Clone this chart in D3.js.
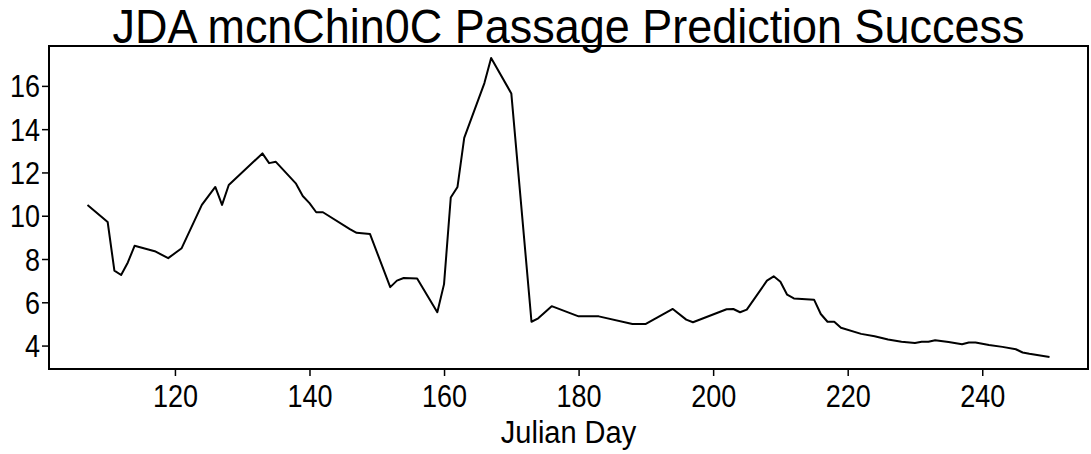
<!DOCTYPE html>
<html><head><meta charset="utf-8">
<script src="https://cdn.jsdelivr.net/npm/d3@7"></script>
<style>
html,body{margin:0;padding:0;background:#fff;}
svg{display:block;font-family:"Liberation Sans",Arial,sans-serif;}
</style></head>
<body>
<svg id="chart" width="1091" height="454"></svg>
<script>
const title = "JDA mcnChin0C Passage Prediction Success";
const xLabel = "Julian Day";
const days = [107,110,111,112,113,114,117,119,121,124,126,127,128,133,134,135,138,139,140,141,142,146,147,149,152,153,154,156,159,160,161,162,163,166,167,170,173,174,176,180,183,188,190,194,196,197,202,203,204,205,208,209,210,211,212,215,216,217,218,219,222,224,226,228,230,231,232,233,235,237,238,239,241,243,245,246,247,250];
const values = [10.5,9.71,7.46,7.26,7.84,8.61,8.36,8.04,8.5,10.5,11.33,10.5,11.42,12.88,12.43,12.49,11.48,10.91,10.58,10.16,10.16,9.38,9.21,9.15,6.7,7.0,7.12,7.1,5.54,6.84,10.84,11.33,13.6,16.13,17.29,15.65,5.1,5.26,5.82,5.35,5.35,5.0,5.0,5.69,5.2,5.08,5.68,5.69,5.54,5.66,7.0,7.2,6.95,6.35,6.18,6.12,5.46,5.1,5.1,4.82,4.54,4.43,4.28,4.18,4.12,4.18,4.18,4.25,4.16,4.06,4.14,4.14,4.03,3.94,3.83,3.68,3.62,3.47];
const xTicks = [120,140,160,180,200,220,240];
const yTicks = [4,6,8,10,12,14,16];

const data = days.map((d,i)=>({x:d,y:values[i]}));
const svg = d3.select("#chart");
const L=49, R=1088, T=46, B=369;

function padExt(a){const e=d3.extent(a);const r=e[1]-e[0];return [e[0]-0.04*r,e[1]+0.04*r];}
const x = d3.scaleLinear().domain(padExt(days)).range([L,R]);
const y = d3.scaleLinear().domain(padExt(values)).range([B,T]);

svg.append("rect").attr("x",L).attr("y",T).attr("width",R-L).attr("height",B-T)
  .attr("fill","none").attr("stroke","#000").attr("stroke-width",2);

const xa = svg.append("g").attr("transform",`translate(0,${B})`)
  .call(d3.axisBottom(x).tickValues(xTicks).tickSize(7).tickFormat(d3.format("d")));
const ya = svg.append("g").attr("transform",`translate(${L},0)`)
  .call(d3.axisLeft(y).tickValues(yTicks).tickSize(7).tickFormat(d3.format("d")));
[xa,ya].forEach(g=>{
  g.select(".domain").remove();
  g.selectAll(".tick line").attr("stroke","#000").attr("stroke-width",1.5);
  g.selectAll(".tick text").attr("fill","#000").style("font-size","27px")
   .style("font-family","'Liberation Sans',Arial,sans-serif")
   .attr("x",0).attr("y",0).attr("dy",null);
});
xa.selectAll(".tick text").attr("transform","translate(0,38) scale(1,1.13)");
ya.selectAll(".tick text").attr("transform","translate(-9,11) scale(1,1.13)");

svg.append("path").datum(data)
  .attr("d",d3.line().x(d=>x(d.x)).y(d=>y(d.y)))
  .attr("fill","none").attr("stroke","#000").attr("stroke-width",2).attr("stroke-linejoin","round");

svg.append("text").attr("transform",`translate(${(L+R)/2},43) scale(1,1.15)`).attr("text-anchor","middle")
  .style("font-size","42px").attr("textLength",912).attr("lengthAdjust","spacingAndGlyphs").text(title);
svg.append("text").attr("transform",`translate(${(L+R)/2},443) scale(1,1.05)`).attr("text-anchor","middle")
  .style("font-size","29px").text(xLabel);
</script>
</body></html>
